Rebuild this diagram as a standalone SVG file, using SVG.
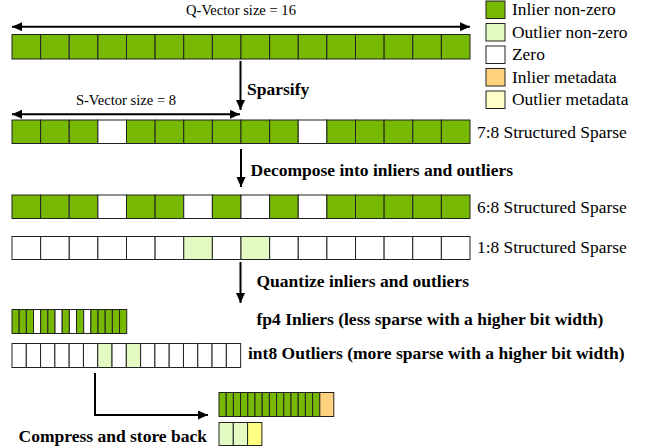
<svg xmlns="http://www.w3.org/2000/svg" width="645" height="448" viewBox="0 0 645 448" font-family="'Liberation Serif', 'Times New Roman', Times, 'DejaVu Serif', serif">
<style>
rect{stroke:#222;stroke-width:1}
.g{fill:#76b900}.lg{fill:#e3fbc3}.w{fill:#fff}.o{fill:#ffd27f}.y{fill:#ffff80}.ly{fill:#ffffc8}
text{font-family:'Liberation Serif','Times New Roman',Times,'DejaVu Serif',serif;fill:#000}
.t{font-size:14.6px}.l{font-size:17.4px}.b{font-size:17.5px;font-weight:bold}
.c{stroke:#000;stroke-width:2;fill:none}
</style>
<defs>
<marker id="ah" markerUnits="userSpaceOnUse" markerWidth="11" markerHeight="10" refX="10" refY="4.5" orient="auto-start-reverse"><path d="M0,0 L10,4.5 L0,9 z" fill="#000"/></marker>
</defs>
<rect x="0" y="0" width="645" height="448" style="fill:#fff;stroke:none"/>

<g id="legend">
<g id="leg-inlier"><rect class="g" x="486" y="1" width="19" height="17.5"/><text class="l" x="512" y="15">Inlier non-zero</text></g>
<g id="leg-outlier"><rect class="lg" x="486" y="23.5" width="19" height="17.5"/><text class="l" x="512" y="37.5">Outlier non-zero</text></g>
<g id="leg-zero"><rect class="w" x="486" y="46" width="19" height="17.5"/><text class="l" x="512" y="60">Zero</text></g>
<g id="leg-imeta"><rect class="o" x="486" y="68.5" width="19" height="17.5"/><text class="l" x="512" y="82.5">Inlier metadata</text></g>
<g id="leg-ometa"><rect class="ly" x="486" y="91" width="19" height="17.5"/><text class="l" x="512" y="105">Outlier metadata</text></g>
</g>

<g id="row-q">
<rect class="g" x="12" y="34.5" width="28.625" height="24.5"/>
<rect class="g" x="40.625" y="34.5" width="28.625" height="24.5"/>
<rect class="g" x="69.25" y="34.5" width="28.625" height="24.5"/>
<rect class="g" x="97.875" y="34.5" width="28.625" height="24.5"/>
<rect class="g" x="126.5" y="34.5" width="28.625" height="24.5"/>
<rect class="g" x="155.125" y="34.5" width="28.625" height="24.5"/>
<rect class="g" x="183.75" y="34.5" width="28.625" height="24.5"/>
<rect class="g" x="212.375" y="34.5" width="28.625" height="24.5"/>
<rect class="g" x="241" y="34.5" width="28.625" height="24.5"/>
<rect class="g" x="269.625" y="34.5" width="28.625" height="24.5"/>
<rect class="g" x="298.25" y="34.5" width="28.625" height="24.5"/>
<rect class="g" x="326.875" y="34.5" width="28.625" height="24.5"/>
<rect class="g" x="355.5" y="34.5" width="28.625" height="24.5"/>
<rect class="g" x="384.125" y="34.5" width="28.625" height="24.5"/>
<rect class="g" x="412.75" y="34.5" width="28.625" height="24.5"/>
<rect class="g" x="441.375" y="34.5" width="28.625" height="24.5"/>
<text class="t" x="241" y="15" text-anchor="middle">Q-Vector size = 16</text>
</g>

<g id="row-78">
<rect class="g" x="12" y="120" width="28.625" height="23.5"/>
<rect class="g" x="40.625" y="120" width="28.625" height="23.5"/>
<rect class="g" x="69.25" y="120" width="28.625" height="23.5"/>
<rect class="w" x="97.875" y="120" width="28.625" height="23.5"/>
<rect class="g" x="126.5" y="120" width="28.625" height="23.5"/>
<rect class="g" x="155.125" y="120" width="28.625" height="23.5"/>
<rect class="g" x="183.75" y="120" width="28.625" height="23.5"/>
<rect class="g" x="212.375" y="120" width="28.625" height="23.5"/>
<rect class="g" x="241" y="120" width="28.625" height="23.5"/>
<rect class="g" x="269.625" y="120" width="28.625" height="23.5"/>
<rect class="w" x="298.25" y="120" width="28.625" height="23.5"/>
<rect class="g" x="326.875" y="120" width="28.625" height="23.5"/>
<rect class="g" x="355.5" y="120" width="28.625" height="23.5"/>
<rect class="g" x="384.125" y="120" width="28.625" height="23.5"/>
<rect class="g" x="412.75" y="120" width="28.625" height="23.5"/>
<rect class="g" x="441.375" y="120" width="28.625" height="23.5"/>
<text class="t" x="126" y="105" text-anchor="middle">S-Vector size = 8</text>
<text class="l" x="477" y="137.5">7:8 Structured Sparse</text>
</g>

<g id="row-68">
<rect class="g" x="12" y="195" width="28.625" height="23.5"/>
<rect class="g" x="40.625" y="195" width="28.625" height="23.5"/>
<rect class="g" x="69.25" y="195" width="28.625" height="23.5"/>
<rect class="w" x="97.875" y="195" width="28.625" height="23.5"/>
<rect class="g" x="126.5" y="195" width="28.625" height="23.5"/>
<rect class="g" x="155.125" y="195" width="28.625" height="23.5"/>
<rect class="w" x="183.75" y="195" width="28.625" height="23.5"/>
<rect class="g" x="212.375" y="195" width="28.625" height="23.5"/>
<rect class="w" x="241" y="195" width="28.625" height="23.5"/>
<rect class="g" x="269.625" y="195" width="28.625" height="23.5"/>
<rect class="w" x="298.25" y="195" width="28.625" height="23.5"/>
<rect class="g" x="326.875" y="195" width="28.625" height="23.5"/>
<rect class="g" x="355.5" y="195" width="28.625" height="23.5"/>
<rect class="g" x="384.125" y="195" width="28.625" height="23.5"/>
<rect class="g" x="412.75" y="195" width="28.625" height="23.5"/>
<rect class="g" x="441.375" y="195" width="28.625" height="23.5"/>
<text class="l" x="477" y="212.5">6:8 Structured Sparse</text>
</g>

<g id="row-18">
<rect class="w" x="12" y="236.5" width="28.625" height="23"/>
<rect class="w" x="40.625" y="236.5" width="28.625" height="23"/>
<rect class="w" x="69.25" y="236.5" width="28.625" height="23"/>
<rect class="w" x="97.875" y="236.5" width="28.625" height="23"/>
<rect class="w" x="126.5" y="236.5" width="28.625" height="23"/>
<rect class="w" x="155.125" y="236.5" width="28.625" height="23"/>
<rect class="lg" x="183.75" y="236.5" width="28.625" height="23"/>
<rect class="w" x="212.375" y="236.5" width="28.625" height="23"/>
<rect class="lg" x="241" y="236.5" width="28.625" height="23"/>
<rect class="w" x="269.625" y="236.5" width="28.625" height="23"/>
<rect class="w" x="298.25" y="236.5" width="28.625" height="23"/>
<rect class="w" x="326.875" y="236.5" width="28.625" height="23"/>
<rect class="w" x="355.5" y="236.5" width="28.625" height="23"/>
<rect class="w" x="384.125" y="236.5" width="28.625" height="23"/>
<rect class="w" x="412.75" y="236.5" width="28.625" height="23"/>
<rect class="w" x="441.375" y="236.5" width="28.625" height="23"/>
<text class="l" x="477" y="253">1:8 Structured Sparse</text>
</g>

<g id="row-fp4">
<rect class="g" x="12" y="309.5" width="7.17" height="24"/>
<rect class="g" x="19.17" y="309.5" width="7.17" height="24"/>
<rect class="g" x="26.34" y="309.5" width="7.17" height="24"/>
<rect class="w" x="33.51" y="309.5" width="7.17" height="24"/>
<rect class="g" x="40.68" y="309.5" width="7.17" height="24"/>
<rect class="g" x="47.85" y="309.5" width="7.17" height="24"/>
<rect class="w" x="55.02" y="309.5" width="7.17" height="24"/>
<rect class="g" x="62.19" y="309.5" width="7.17" height="24"/>
<rect class="w" x="69.36" y="309.5" width="7.17" height="24"/>
<rect class="g" x="76.53" y="309.5" width="7.17" height="24"/>
<rect class="w" x="83.7" y="309.5" width="7.17" height="24"/>
<rect class="g" x="90.87" y="309.5" width="7.17" height="24"/>
<rect class="g" x="98.04" y="309.5" width="7.17" height="24"/>
<rect class="g" x="105.21" y="309.5" width="7.17" height="24"/>
<rect class="g" x="112.38" y="309.5" width="7.17" height="24"/>
<rect class="g" x="119.55" y="309.5" width="7.17" height="24"/>
<text class="b" x="256.5" y="325">fp4 Inliers (less sparse with a higher bit width)</text>
</g>

<g id="row-int8">
<rect class="w" x="12" y="343.5" width="14.29" height="24"/>
<rect class="w" x="26.29" y="343.5" width="14.29" height="24"/>
<rect class="w" x="40.58" y="343.5" width="14.29" height="24"/>
<rect class="w" x="54.87" y="343.5" width="14.29" height="24"/>
<rect class="w" x="69.16" y="343.5" width="14.29" height="24"/>
<rect class="w" x="83.45" y="343.5" width="14.29" height="24"/>
<rect class="lg" x="97.74" y="343.5" width="14.29" height="24"/>
<rect class="w" x="112.03" y="343.5" width="14.29" height="24"/>
<rect class="lg" x="126.32" y="343.5" width="14.29" height="24"/>
<rect class="w" x="140.61" y="343.5" width="14.29" height="24"/>
<rect class="w" x="154.9" y="343.5" width="14.29" height="24"/>
<rect class="w" x="169.19" y="343.5" width="14.29" height="24"/>
<rect class="w" x="183.48" y="343.5" width="14.29" height="24"/>
<rect class="w" x="197.77" y="343.5" width="14.29" height="24"/>
<rect class="w" x="212.06" y="343.5" width="14.29" height="24"/>
<rect class="w" x="226.35" y="343.5" width="14.29" height="24"/>
<text class="b" x="248" y="359">int8 Outliers (more sparse with a higher bit width)</text>
</g>

<g id="compressed-inliers">
<rect class="g" x="219" y="392.5" width="7.2" height="24"/>
<rect class="g" x="226.2" y="392.5" width="7.2" height="24"/>
<rect class="g" x="233.4" y="392.5" width="7.2" height="24"/>
<rect class="g" x="240.6" y="392.5" width="7.2" height="24"/>
<rect class="g" x="247.8" y="392.5" width="7.2" height="24"/>
<rect class="g" x="255" y="392.5" width="7.2" height="24"/>
<rect class="g" x="262.2" y="392.5" width="7.2" height="24"/>
<rect class="g" x="269.4" y="392.5" width="7.2" height="24"/>
<rect class="g" x="276.6" y="392.5" width="7.2" height="24"/>
<rect class="g" x="283.8" y="392.5" width="7.2" height="24"/>
<rect class="g" x="291" y="392.5" width="7.2" height="24"/>
<rect class="g" x="298.2" y="392.5" width="7.2" height="24"/>
<rect class="g" x="305.4" y="392.5" width="7.2" height="24"/>
<rect class="g" x="312.6" y="392.5" width="7.2" height="24"/>
<rect class="o" x="319.8" y="392.5" width="14" height="24"/>
</g>

<g id="compressed-outliers">
<rect class="lg" x="219" y="422.5" width="14.3" height="23"/>
<rect class="lg" x="233.3" y="422.5" width="14.3" height="23"/>
<rect class="y" x="247.6" y="422.5" width="14.3" height="23"/>
</g>

<g id="step-labels">
<text class="b" x="247" y="95">Sparsify</text>
<text class="b" x="250.5" y="176">Decompose into inliers and outliers</text>
<text class="b" x="256.5" y="287">Quantize inliers and outliers</text>
<text class="b" x="207" y="441.5" text-anchor="end">Compress and store back</text>
</g>

<g id="connectors">
<line class="c" x1="12" y1="26.7" x2="470" y2="26.7" marker-start="url(#ah)" marker-end="url(#ah)"/>
<line class="c" x1="12" y1="114.3" x2="240" y2="114.3" marker-start="url(#ah)" marker-end="url(#ah)"/>
<line class="c" x1="240.5" y1="61" x2="240.5" y2="110" marker-end="url(#ah)"/>
<line class="c" x1="241" y1="149" x2="241" y2="187" marker-end="url(#ah)"/>
<line class="c" x1="240.5" y1="262" x2="240.5" y2="303" marker-end="url(#ah)"/>
<polyline class="c" points="95,373 95,415 208,415" marker-end="url(#ah)"/>
</g>
</svg>
